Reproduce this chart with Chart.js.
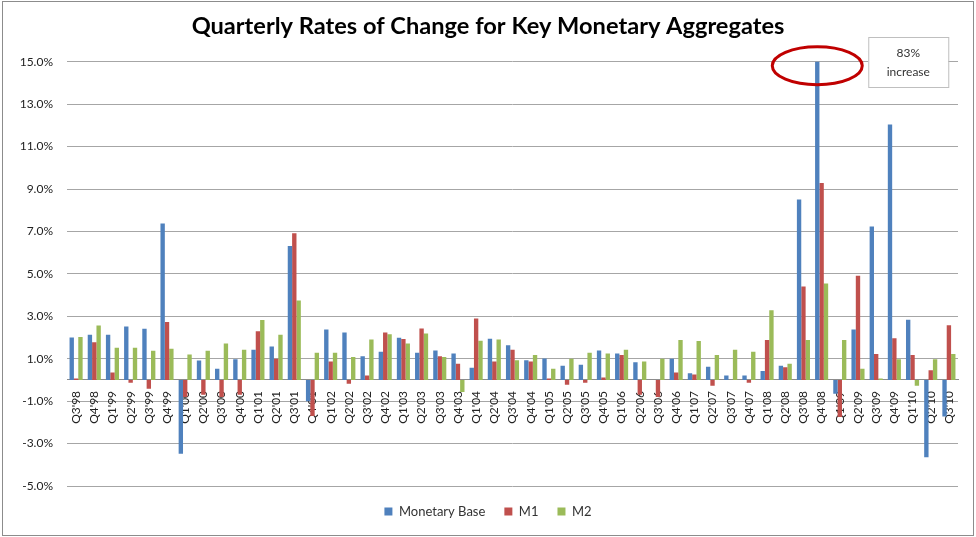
<!DOCTYPE html>
<html>
<head>
<meta charset="utf-8">
<title>Quarterly Rates of Change for Key Monetary Aggregates</title>
<script src="https://cdn.jsdelivr.net/npm/chart.js@4.4.0/dist/chart.umd.min.js"></script>
<style>
	html, body { margin: 0; padding: 0; background: #ffffff; }
	#wrap { width: 976px; height: 537px; position: relative; }
</style>
</head>
<body>
<div id="wrap"><canvas id="barChart" width="976" height="537"></canvas></div>
<script>
console.log("chart | LOADED");

// DONNEES
var quarters = ["Q3'98","Q4'98",
	"Q1'99","Q2'99","Q3'99","Q4'99",
	"Q1'00","Q2'00","Q3'00","Q4'00",
	"Q1'01","Q2'01","Q3'01","Q4'01",
	"Q1'02","Q2'02","Q3'02","Q4'02",
	"Q1'03","Q2'03","Q3'03","Q4'03",
	"Q1'04","Q2'04","Q3'04","Q4'04",
	"Q1'05","Q2'05","Q3'05","Q4'05",
	"Q1'06","Q2'06","Q3'06","Q4'06",
	"Q1'07","Q2'07","Q3'07","Q4'07",
	"Q1'08","Q2'08","Q3'08","Q4'08",
	"Q1'09","Q2'09","Q3'09","Q4'09",
	"Q1'10","Q2'10","Q3'10"];

var monetaryBase = [2.0, 2.13,
	2.13, 2.52, 2.41, 7.37,
	-3.48, 0.92, 0.53, 0.98,
	1.42, 1.57, 6.31, -1.0,
	2.38, 2.24, 1.12, 1.33,
	1.99, 1.28, 1.39, 1.24,
	0.58, 1.94, 1.63, 0.93,
	1.01, 0.67, 0.72, 1.39,
	1.24, 0.83, 0.0, 1.0,
	0.31, 0.62, 0.21, 0.21,
	0.42, 0.67, 8.51, 83.0,
	-0.65, 2.38, 7.23, 12.04,
	2.84, -3.64, -1.72];

var m1 = [0.07, 1.78,
	0.35, -0.13, -0.42, 2.73,
	-0.8, -0.7, -0.8, -0.7,
	2.29, 1.0, 6.91, -1.7,
	0.87, -0.18, 0.21, 2.24,
	1.93, 2.43, 1.12, 0.76,
	2.89, 0.87, 1.42, 0.87,
	0.07, -0.23, -0.13, 0.12,
	1.17, -0.7, -0.8, 0.35,
	0.26, -0.27, 0.0, -0.13,
	1.88, 0.6, 4.4, 9.28,
	-1.75, 4.91, 1.22, 1.97,
	1.17, 0.46, 2.58];

var m2 = [2.02, 2.57,
	1.52, 1.52, 1.38, 1.47,
	1.2, 1.38, 1.72, 1.42,
	2.82, 2.13, 3.74, 1.28,
	1.28, 1.08, 1.9, 2.15,
	1.72, 2.19, 1.08, -0.57,
	1.85, 1.9, 0.93, 1.17,
	0.53, 1.0, 1.28, 1.24,
	1.42, 0.87, 1.0, 1.88,
	1.83, 1.17, 1.42, 1.33,
	3.29, 0.76, 1.88, 4.55,
	1.88, 0.53, 0.07, 0.98,
	-0.27, 0.98, 1.22];

var yMin = -5;
var yMax = 15;
var yStep = 2;

// annotation sur le pic du Q4'08
var calloutQuarter = "Q4'08";
var calloutLines = ["83%", "increase"];

var fontFamily = "Lato, 'Open Sans', 'DejaVu Sans', sans-serif";

// ellipse rouge + encadre texte
var calloutPlugin = {
	id: 'callout',
	afterDatasetsDraw: function(chart) {
		var ctx = chart.ctx;
		var ys = chart.scales.y;
		var idx = quarters.indexOf(calloutQuarter);
		var meta = chart.getDatasetMeta(0);
		var cx = meta.data[idx].x;
		var cy = ys.getPixelForValue(yMax) + 4;

		ctx.save();
		// cadre
		var bx = cx + 51, by = 37, bw = 80, bh = 50;
		ctx.fillStyle = '#ffffff';
		ctx.fillRect(bx, by, bw, bh);
		ctx.strokeStyle = '#bfbfbf';
		ctx.lineWidth = 1;
		ctx.strokeRect(bx + 0.5, by + 0.5, bw, bh);
		ctx.fillStyle = '#333333';
		ctx.font = "12px " + fontFamily;
		ctx.textAlign = 'center';
		ctx.textBaseline = 'middle';
		ctx.fillText(calloutLines[0], bx + bw / 2, by + 16);
		ctx.fillText(calloutLines[1], bx + bw / 2, by + 35);

		// ellipse
		ctx.beginPath();
		ctx.ellipse(cx, cy, 45, 19, 0, 0, Math.PI * 2);
		ctx.strokeStyle = '#c00000';
		ctx.lineWidth = 3;
		ctx.stroke();
		ctx.restore();
	}
};

// bordure grise autour du graphe
var framePlugin = {
	id: 'frame',
	afterDraw: function(chart) {
		var ctx = chart.ctx;
		ctx.save();
		ctx.strokeStyle = '#8c8c8c';
		ctx.lineWidth = 1;
		ctx.strokeRect(2.5, 1.5, 971, 534);
		ctx.restore();
	}
};

var data = {
	labels: quarters,
	datasets: [
		{
			label: "Monetary Base",
			backgroundColor: "#4f81bd",
			data: monetaryBase,
			clip: 0
		},
		{
			label: "M1",
			backgroundColor: "#c0504d",
			data: m1,
			clip: 0
		},
		{
			label: "M2",
			backgroundColor: "#9bbb59",
			data: m2,
			clip: 0
		}
	]
};

var options = {
	responsive: false,
	animation: false,
	datasets: {
		bar: {
			categoryPercentage: 0.72,
			barPercentage: 1.0
		}
	},
	layout: {
		padding: { left: 18, right: 18, top: 0, bottom: 9 }
	},
	plugins: {
		title: {
			display: true,
			text: "Quarterly Rates of Change for Key Monetary Aggregates",
			color: '#000000',
			font: { family: fontFamily, size: 23.6, weight: 'bold' },
			padding: { top: 12, bottom: 21.4 }
		},
		legend: {
			position: 'bottom',
			labels: {
				boxWidth: 8,
				boxHeight: 8,
				padding: 19,
				color: '#333333',
				font: { family: fontFamily, size: 13 }
			}
		},
		tooltip: { enabled: false }
	},
	scales: {
		x: {
			position: { y: 0 },
			grid: { display: false, drawTicks: false },
			border: { display: true, color: '#8c8c8c', width: 1 },
			ticks: {
				autoSkip: false,
				maxRotation: 90,
				minRotation: 90,
				padding: 11,
				color: '#222222',
				font: { family: fontFamily, size: 12 }
			}
		},
		y: {
			min: yMin,
			max: yMax,
			afterFit: function(scale) { scale.width = 49; },
			grid: { color: '#a6a6a6', drawTicks: false },
			border: { display: false },
			ticks: {
				stepSize: yStep,
				padding: 14,
				color: '#222222',
				font: { family: fontFamily, size: 12 },
				callback: function(v) { return v.toFixed(1) + '%'; }
			}
		}
	}
};

var ctx = document.getElementById('barChart');

var myBarChart = new Chart(ctx, {
	type: 'bar',
	data: data,
	options: options,
	plugins: [calloutPlugin, framePlugin]
});
</script>
</body>
</html>
